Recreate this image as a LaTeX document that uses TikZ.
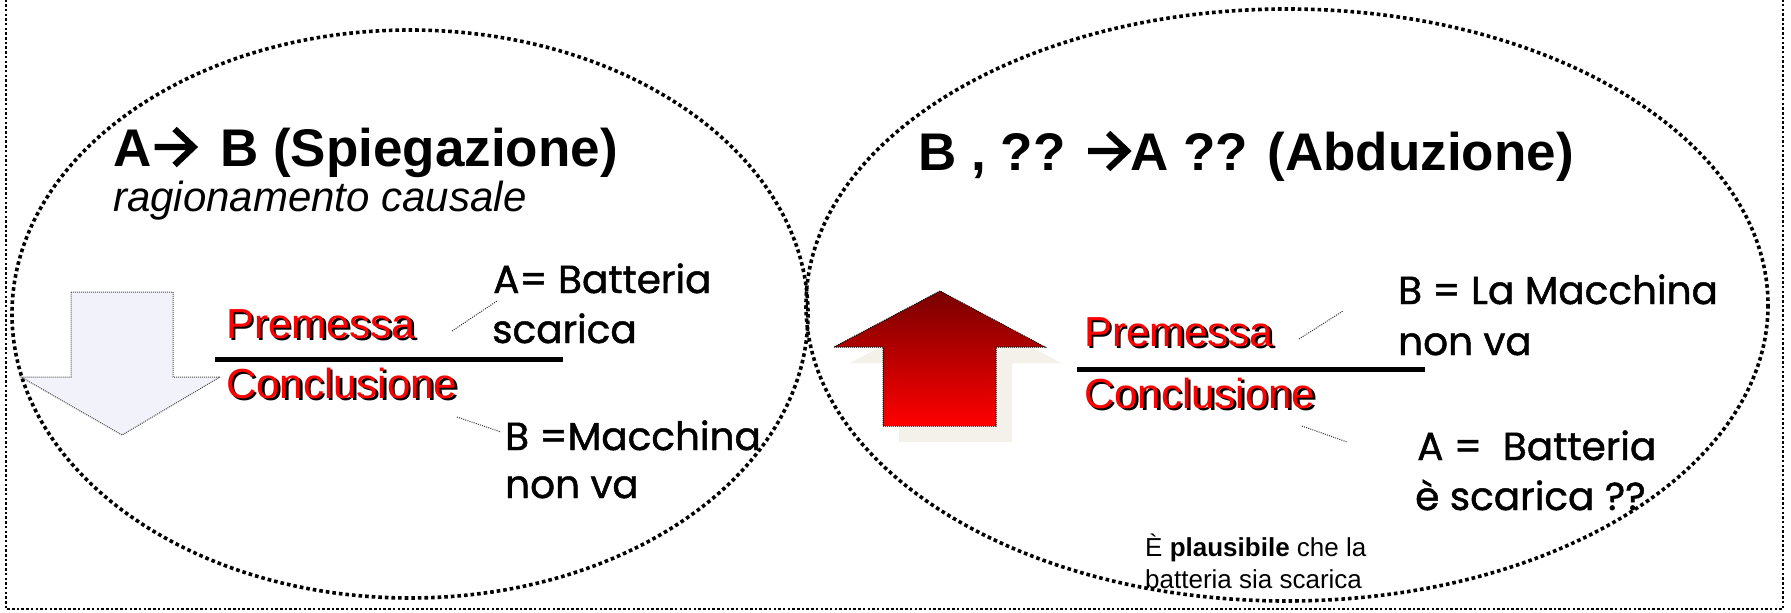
\documentclass[tikz,border=0pt]{standalone}
\usepackage{fontspec}
\setmainfont{Liberation Sans}
\newfontfamily\comicf[FakeBold=1.2]{Poppins}
\usetikzlibrary{shadings}
\definecolor{lav}{HTML}{F2F2FA}
\definecolor{beige}{HTML}{F3F1EA}
\definecolor{dred}{HTML}{780000}
\definecolor{bred}{HTML}{FF0000}
\newcommand{\tarrow}{\tikz[baseline=0pt,x=1pt,y=1pt]{\draw[line width=6.2pt, line join=miter, line cap=butt] (1,19) -- (39,19) (21,37) -- (40,19) -- (21,1);}}
\begin{document}
\begin{tikzpicture}[x=1pt,y=-1pt,
  bigdots/.style={line width=3.6pt, dash pattern=on 3.6pt off 3pt},
  framedots/.style={line width=2.5pt, dash pattern=on 2.5pt off 2.2pt},
  finedots/.style={line width=1pt, dash pattern=on 1pt off 1pt},
  conn/.style={line width=1pt, dash pattern=on 1pt off 1.2pt, black!80},
  titletxt/.style={anchor=base west, inner sep=0pt, font=\fontsize{53}{60}\selectfont\bfseries},
  subtxt/.style={anchor=base west, inner sep=0pt, font=\fontsize{42}{48}\selectfont\itshape},
  redtxt/.style={anchor=base west, inner sep=0pt, font=\fontsize{42}{48}\selectfont, text=bred},
  shtxt/.style={anchor=base west, inner sep=0pt, font=\fontsize{42}{48}\selectfont, text=black},
  comic/.style={anchor=base west, inner sep=0pt, font=\fontsize{39}{50}\selectfont\comicf},
  smalltxt/.style={anchor=base west, inner sep=0pt, font=\fontsize{26}{30}\selectfont},
  bar/.style={line width=5pt}
]
\useasboundingbox (0,0) rectangle (1791,613);
\clip (0,0) rectangle (1791,613);
\fill[white] (0,0) rectangle (1791,613);

% outer frame (top side lies outside the picture)
\coordinate (f1) at (6,-10);
\coordinate (f2) at (6,609);
\coordinate (f3) at (1783,609);
\coordinate (f4) at (1783,-10);
\draw[framedots] (f1) -- (f2) -- (f3) -- (f4);

% ellipses
\draw[bigdots] (410,314) ellipse [x radius=398, y radius=284];
\draw[bigdots] (1287,305) ellipse [x radius=481, y radius=296];

% left down arrow
\coordinate (d1) at (71,292);
\coordinate (d2) at (173,292);
\coordinate (d3) at (173,377);
\coordinate (d4) at (220,377);
\coordinate (d5) at (122,435);
\coordinate (d6) at (21,377);
\coordinate (d7) at (71,377);
\filldraw[fill=lav, draw=black!70, finedots] (d1) -- (d2) -- (d3) -- (d4) -- (d5) -- (d6) -- (d7) -- cycle;

% right up arrow: shadow
\coordinate (s1) at (899,442);
\coordinate (s2) at (1012,442);
\coordinate (s3) at (1012,363);
\coordinate (s4) at (1061,363);
\coordinate (s5) at (956,307);
\coordinate (s6) at (850,363);
\coordinate (s7) at (899,363);
\fill[beige] (s1) -- (s2) -- (s3) -- (s4) -- (s5) -- (s6) -- (s7) -- cycle;
% right up arrow
\coordinate (u1) at (883,426);
\coordinate (u2) at (996,426);
\coordinate (u3) at (996,347);
\coordinate (u4) at (1045,347);
\coordinate (u5) at (940,291);
\coordinate (u6) at (834,347);
\coordinate (u7) at (883,347);
\shade[top color=dred, bottom color=bred] (u1) -- (u2) -- (u3) -- (u4) -- (u5) -- (u6) -- (u7) -- cycle;
\draw[finedots, black] (u1) -- (u2) -- (u3) -- (u4) -- (u5) -- (u6) -- (u7) -- cycle;

% titles
\node[titletxt] (tl) at (113,166) {A\tarrow{}\, B (Spiegazione)};
\node[subtxt] (sl) at (113,211) {ragionamento causale};
\node[titletxt] (tr) at (918,170) {B , ?? \tarrow{}A ?? (Abduzione)};

% left premessa / conclusione
\node[shtxt] (plS) at (228.5,340.5) {Premessa};
\node[redtxt] (pl) at (226,338) {Premessa};
\draw[bar] (215,359) -- (563,359);
\node[shtxt] (clS) at (228.5,400.5) {Conclusione};
\node[redtxt] (cl) at (226,398) {Conclusione};

% right premessa / conclusione
\node[shtxt] (prS) at (1086.5,348.5) {Premessa};
\node[redtxt] (pr) at (1084,346) {Premessa};
\draw[bar] (1077,369) -- (1425,369);
\node[shtxt] (crS) at (1086.5,410.5) {Conclusione};
\node[redtxt] (cr) at (1084,408) {Conclusione};

% left comic texts
\node[comic] (la1) at (493,293) {A= Batteria};
\node[comic] (la2) at (492,343) {scarica};
\node[comic] (lb1) at (505,450) {B =Macchina};
\node[comic] (lb2) at (505,498) {non va};

% right comic texts
\node[comic] (rb1) at (1398,304) {B = La Macchina};
\node[comic] (rb2) at (1398,355) {non va};
\node[comic] (ra1) at (1417,460) {A =\ \ Batteria};
\node[comic] (ra2) at (1415,510) {è scarica ??};

% connectors
\coordinate (c1a) at (452,331);
\coordinate (c1b) at (497,301);
\draw[conn] (c1a) -- (c1b);
\coordinate (c2a) at (457,417);
\coordinate (c2b) at (501,432);
\draw[conn] (c2a) -- (c2b);
\coordinate (c3a) at (1299,339);
\coordinate (c3b) at (1343,311);
\draw[conn] (c3a) -- (c3b);
\coordinate (c4a) at (1302,426);
\coordinate (c4b) at (1347,442);
\draw[conn] (c4a) -- (c4b);

% small text
\node[smalltxt] (p1) at (1145,556) {È \textbf{plausibile} che la};
\node[smalltxt] (p2) at (1145,588) {batteria sia scarica};
\end{tikzpicture}
\end{document}
